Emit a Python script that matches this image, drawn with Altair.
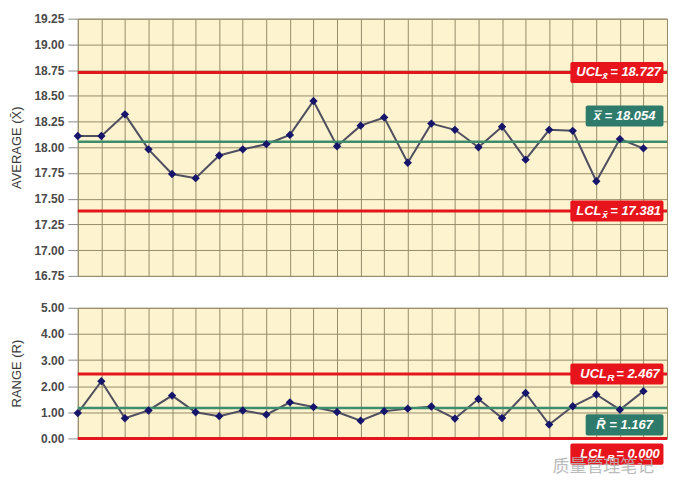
import altair as alt
import pandas as pd

# ---- data ----
samples = list(range(1, 26))
averages = [18.11, 18.11, 18.32, 17.98, 17.74, 17.70, 17.92, 17.98, 18.03, 18.12,
            18.45, 18.01, 18.21, 18.29, 17.85, 18.23, 18.17, 18.00, 18.20, 17.88,
            18.17, 18.16, 17.67, 18.08, 17.99]
ranges = [0.97, 2.19, 0.77, 1.07, 1.64, 1.00, 0.85, 1.07, 0.91, 1.38,
          1.20, 1.01, 0.68, 1.04, 1.14, 1.22, 0.76, 1.51, 0.78, 1.74,
          0.53, 1.23, 1.68, 1.10, 1.81]
xbar_limits = {"UCL": 18.727, "CL": 18.054, "LCL": 17.381}
r_limits = {"UCL": 2.467, "CL": 1.167, "LCL": 0.000}
avg_ticks = [16.75, 17.0, 17.25, 17.5, 17.75, 18.0, 18.25, 18.5, 18.75, 19.0, 19.25]
range_ticks = [0, 1, 2, 3, 4, 5]
x_grid = list(range(1, 27))

RED = "#e3161d"
GREEN = "#3d8c6c"
BOXGREEN = "#2f7b6b"
GRID = "#978c69"
W, H1, H2 = 591, 258, 131
FONT = "Liberation Sans"

xscale = alt.Scale(domain=[1, 26], nice=False, zero=False)
xaxis = alt.Axis(values=x_grid, labels=False, ticks=False, domain=False,
                 title=None, grid=True, gridColor=GRID, gridOpacity=1)


def yaxis(title, ticks):
    return alt.Axis(values=ticks, format=".2f", grid=True, gridColor=GRID, gridOpacity=1,
                    domain=False, tickColor="#8a8a8a", tickSize=10, labelPadding=4,
                    labelOverlap=False, labelFont=FONT, labelFontSize=12,
                    labelFontWeight="bold", labelColor="#4a4a4a", title=title,
                    titleFont=FONT, titleFontSize=13, titleFontWeight="normal",
                    titleColor="#3a3a3a", titleX=-61, titleBaseline="middle",
                    titleAngle=-90)


def panel(values, limits, ticks, domain, title, labels, sub_dx, post_dx, pre_dx):
    df = pd.DataFrame({"sample": samples, "v": values})
    yscale = alt.Scale(domain=domain, nice=False, zero=False)
    yax = yaxis(title, ticks)
    X = lambda f: alt.X(f, scale=xscale, axis=xaxis)
    Y = lambda f: alt.Y(f, scale=yscale, axis=yax)
    base = alt.Chart(df)
    line = base.mark_line(color="#4f4f60", strokeWidth=2).encode(
        x=X("sample:Q"), y=Y("v:Q"))
    pts = base.mark_point(shape="diamond", filled=True, size=70, color="#15156b",
                          opacity=1).encode(x=X("sample:Q"), y=Y("v:Q"))
    ldf = pd.DataFrame({"v": [limits["UCL"], limits["LCL"], limits["CL"]]})
    red_rules = alt.Chart(ldf.iloc[:2]).mark_rule(strokeWidth=3, color=RED).encode(y=Y("v:Q"))
    green_rule = alt.Chart(ldf.iloc[2:]).mark_rule(strokeWidth=2.5, color=GREEN).encode(y=Y("v:Q"))

    lab = pd.DataFrame(labels)
    boxes = alt.Chart(lab).mark_rect(cornerRadius=2).encode(
        x=X("x1:Q"), x2="x2:Q", y=Y("y1:Q"), y2="y2:Q",
        color=alt.Color("fill:N", scale=None))
    red = lab[lab["kind"] == "limit"]
    grn = lab[lab["kind"] == "center"]
    tstyle = dict(font=FONT, fontWeight="bold", fontStyle="italic", color="white",
                  baseline="middle")
    pre = alt.Chart(red).mark_text(align="left", dx=pre_dx, fontSize=13, **tstyle).encode(
        x=X("x1:Q"), y=Y("yc:Q"), text="pre:N")
    sub = alt.Chart(red).mark_text(align="left", dx=sub_dx, dy=4, fontSize=10, **tstyle).encode(
        x=X("x1:Q"), y=Y("yc:Q"), text="sub:N")
    post = alt.Chart(red).mark_text(align="left", dx=post_dx, fontSize=13, **tstyle).encode(
        x=X("x1:Q"), y=Y("yc:Q"), text="post:N")
    ctr = alt.Chart(grn).mark_text(align="center", fontSize=13, **tstyle).encode(
        x=X("xm:Q"), y=Y("yc:Q"), text="pre:N")
    layers = [line, red_rules, green_rule, pts, boxes, pre, sub, post, ctr]
    return layers, X, Y


def label_rows(limits, half, center_offset, lcl_offset, green_text, sub):
    rows = []
    for key, off in (("UCL", 0.0), ("LCL", lcl_offset)):
        yc = limits[key] + off
        rows.append(dict(kind="limit", x1=21.9, x2=25.85, xm=23.9, yc=yc,
                         y1=yc - half, y2=yc + half, fill="#e8141c",
                         pre=key, sub=sub, post="= %.3f" % limits[key]))
    yc = limits["CL"] + center_offset
    rows.append(dict(kind="center", x1=22.55, x2=25.85, xm=24.2, yc=yc,
                     y1=yc - half, y2=yc + half, fill=BOXGREEN,
                     pre=green_text, sub="", post=""))
    return rows


top_labels = label_rows(xbar_limits, 0.103, 0.25, 0.0, "x\u033f = %.3f" % xbar_limits["CL"], "x\u0304")
bot_labels = label_rows(r_limits, 0.405, -0.65, -0.60, "R\u0304 = %.3f" % r_limits["CL"], "R")

top_layers, _, _ = panel(averages, xbar_limits, avg_ticks, [16.75, 19.25],
                         "AVERAGE (X\u0304)", top_labels, 32, 40, 6)
bot_layers, Xb, Yb = panel(ranges, r_limits, range_ticks, [0, 5],
                           "RANGE (R)", bot_labels, 37, 46, 10)

wm = alt.Chart(pd.DataFrame({"x": [23.3], "y": [-1.08], "t": ["质量管理笔记"]})).mark_text(
    font="Noto Sans CJK SC", fontSize=17, color="#b5b5b5", opacity=0.9).encode(
    x=Xb("x:Q"), y=Yb("y:Q"), text="t:N")

top = alt.layer(*top_layers).properties(width=W, height=H1)
bottom = alt.layer(*bot_layers, wm).properties(width=W, height=H2)

chart = alt.vconcat(top, bottom, spacing=18).configure_view(
    fill="#fdf3cf", stroke=GRID, strokeWidth=1).properties(
    background="white", padding={"left": 2, "top": 3, "right": 0, "bottom": 0})

chart.save("out.html", embed_options={"renderer": "svg", "actions": False})
